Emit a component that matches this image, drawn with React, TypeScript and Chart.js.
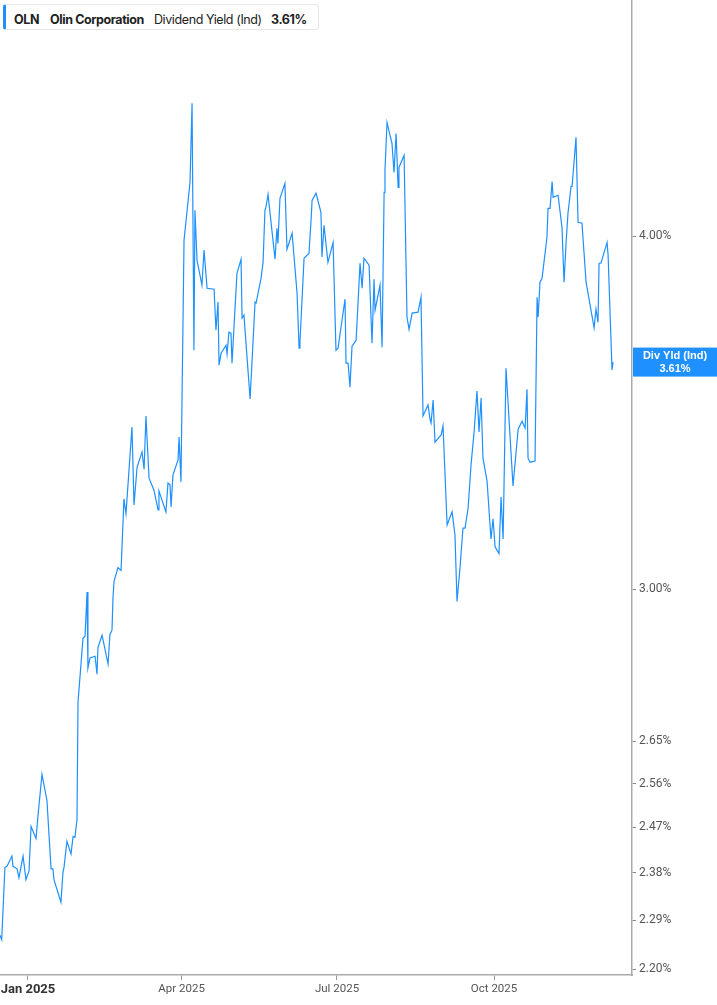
import { useEffect, useRef } from "react";
import { Chart, registerables } from "chart.js";

Chart.register(...registerables);

// x = days counted from 1 Jan 2025, y = dividend yield in %
const days = [
  -16.4, -15.4, -13.5, -12.3, -9.4, -8.8, -6.4, -5.3, -2.9, -1.2, 0.6, 1.8, 4.7, 5.9, 8.2, 11.1,
  13.5, 14.6, 15.2, 19.3, 20.5, 21.1, 22.8, 25.2, 26.4, 27.5, 28.7, 29.3, 30.5, 32.2, 33.4, 34.6,
  35.1, 36.3, 39.3, 40.4, 41.0, 43.4, 46.9, 48.0, 49.2, 49.8, 50.4, 52.7, 54.5, 56.2, 57.4, 60.9,
  62.1, 63.9, 66.8, 68.0, 69.1, 70.9, 73.8, 76.2, 76.7, 80.8, 82.0, 83.2, 83.8, 84.9, 87.9, 88.5,
  89.6, 91.4, 94.9, 96.1, 97.2, 97.8, 99.0, 101.9, 103.1, 104.9, 109.0, 110.1, 111.3, 111.9, 113.1,
  116.0, 116.6, 117.7, 118.9, 119.5, 122.4, 124.8, 125.4, 126.5, 130.1, 133.0, 133.6, 136.5, 137.7,
  138.8, 139.4, 140.6, 144.7, 145.8, 146.4, 147.6, 150.5, 151.7, 154.7, 157.6, 158.8, 159.3, 161.7,
  164.6, 165.8, 166.4, 168.7, 171.6, 172.2, 173.4, 175.7, 178.7, 180.4, 181.6, 185.7, 186.3, 187.5,
  188.6, 189.8, 192.2, 194.5, 195.7, 196.8, 199.8, 201.5, 202.7, 203.3, 206.2, 207.4, 208.6, 209.1,
  210.3, 213.2, 214.4, 215.6, 216.8, 217.3, 220.3, 222.0, 223.2, 225.0, 228.5, 230.2, 231.4, 234.3,
  235.5, 236.1, 237.3, 238.4, 242.0, 243.1, 245.5, 248.4, 250.1, 251.3, 253.1, 254.8, 256.0, 257.8,
  259.5, 261.3, 263.0, 264.2, 265.4, 266.5, 268.9, 271.2, 272.4, 273.6, 275.9, 277.1, 278.3, 280.0,
  284.1, 287.1, 289.4, 291.2, 292.3, 292.9, 294.1, 297.0, 298.2, 298.8, 299.9, 301.1, 304.0, 304.6,
  305.8, 307.0, 307.6, 310.5, 312.8, 314.0, 315.2, 316.3, 318.1, 318.7, 321.0, 322.2, 324.5, 326.9,
  331.6, 332.7, 333.9, 334.5, 335.6, 339.2, 339.8, 342.1, 342.7,
];

const yields = [
  2.262, 2.254, 2.391, 2.393, 2.413, 2.393, 2.388, 2.371, 2.413, 2.367, 2.384, 2.472, 2.448, 2.496, 2.579, 2.525,
  2.388, 2.388, 2.367, 2.324, 2.382, 2.391, 2.442, 2.417, 2.452, 2.45, 2.486, 2.736, 2.795, 2.882, 2.887, 2.993,
  2.813, 2.836, 2.84, 2.799, 2.861, 2.889, 2.822, 2.891, 2.901, 2.98, 3.019, 3.053, 3.046, 3.229, 3.19, 3.424,
  3.213, 3.314, 3.355, 3.308, 3.455, 3.284, 3.252, 3.2, 3.25, 3.195, 3.271, 3.266, 3.208, 3.292, 3.333, 3.396,
  3.274, 3.987, 4.18, 4.458, 3.645, 4.086, 3.923, 3.844, 3.955, 3.834, 3.831, 3.705, 3.791, 3.601, 3.636,
  3.66, 3.634, 3.699, 3.696, 3.607, 3.881, 3.926, 3.742, 3.751, 3.503, 3.791, 3.788, 3.865, 3.916,
  4.086, 4.096, 4.139, 3.926, 4.026, 3.977, 4.126, 4.176, 3.958, 4.01, 3.819, 3.651, 3.669, 3.929,
  3.945, 4.052, 4.119, 4.143, 4.079, 3.933, 4.036, 3.916, 3.98, 3.645, 3.651, 3.8, 3.607, 3.607,
  3.537, 3.657, 3.675, 3.913, 3.834, 3.929, 3.907, 3.666, 3.862, 3.766, 3.844, 3.654, 4.146, 4.221,
  4.389, 4.315, 4.214, 4.35, 4.163, 4.231, 4.273, 3.745, 3.708, 3.757, 3.76, 3.806, 3.455, 3.486,
  3.446, 3.435, 3.5, 3.382, 3.402, 3.427, 3.161, 3.195, 3.136, 2.97, 3.055, 3.153, 3.153, 3.205,
  3.319, 3.41, 3.526, 3.41, 3.506, 3.338, 3.276, 3.125, 3.177, 3.105, 3.088, 3.234, 3.125, 3.592,
  3.263, 3.418, 3.44, 3.421, 3.531, 3.338, 3.327, 3.33, 3.806, 3.745, 3.853, 3.865, 3.997, 4.092,
  4.092, 4.183, 4.129, 4.136, 4.029, 3.853, 3.98, 4.076, 4.166, 4.166, 4.336, 4.046, 4.043, 3.853,
  3.712, 3.769, 3.729, 3.913, 3.913, 3.98, 3.939, 3.587, 3.61,
];

const yTicks = [2.2, 2.29, 2.38, 2.47, 2.56, 2.65, 3.0, 4.0];
const xTickDays = [0, 90, 181, 273];
const xTickLabels = ["Jan 2025", "Apr 2025", "Jul 2025", "Oct 2025"];

const BLUE = "#1e90ff";

const lastValueTag = {
  id: "lastValueTag",
  afterDraw(chart: any) {
    const { ctx, chartArea, scales } = chart;
    const last = yields[yields.length - 1];
    const y = scales.y.getPixelForValue(last);
    const x0 = chartArea.right + 1;
    ctx.save();
    ctx.fillStyle = BLUE;
    ctx.fillRect(x0, y - 14.5, chart.width - x0, 29);
    ctx.fillStyle = "#fff";
    ctx.font = "bold 11px 'Liberation Sans', Arial, sans-serif";
    ctx.textAlign = "center";
    ctx.textBaseline = "middle";
    const cx = (x0 + chart.width) / 2;
    ctx.fillText("Div Yld (Ind)", cx, y - 6);
    ctx.fillText(last.toFixed(2) + "%", cx, y + 7);
    ctx.restore();
  },
};

export default function App() {
  const canvasRef = useRef<any>(null);

  useEffect(() => {
    if (!canvasRef.current) return;
    const chart = new Chart(canvasRef.current.getContext("2d"), {
      type: "line",
      data: {
        datasets: [
          {
            label: "Dividend Yield (Ind)",
            data: days.map((d, i) => ({ x: d, y: yields[i] })),
            borderColor: BLUE,
            borderWidth: 1.2,
            pointRadius: 0,
            tension: 0,
            fill: false,
          },
        ],
      },
      options: {
        animation: false,
        responsive: true,
        maintainAspectRatio: false,
        layout: { padding: 0 },
        plugins: {
          legend: { display: false },
          tooltip: { enabled: false },
        },
        scales: {
          x: {
            type: "linear",
            min: -16.4,
            max: 353.8,
            afterBuildTicks: (scale: any) => {
              scale.ticks = xTickDays.map((v) => ({ value: v }));
            },
            afterFit: (scale: any) => {
              scale.height = 30;
              scale.paddingLeft = 0;
              scale.paddingRight = 0;
            },
            grid: { drawOnChartArea: false, drawTicks: true, tickLength: 5, color: "#999" },
            border: { display: true, color: "#aaa", width: 1.5 },
            ticks: {
              autoSkip: false,
              maxRotation: 0,
              padding: 2,
              color: (ctx: any) => (ctx.index === 0 ? "#333" : "#555"),
              font: (ctx: any) =>
                ctx.index === 0
                  ? { family: "Roboto", size: 13, weight: "bold" }
                  : { family: "Roboto", size: 11.5, weight: "normal" },
              callback: (v: any) => xTickLabels[xTickDays.indexOf(Number(v))] ?? "",
            },
          },
          y: {
            type: "logarithmic",
            position: "right",
            min: 2.19,
            max: 4.85,
            afterBuildTicks: (scale: any) => {
              scale.ticks = yTicks.map((v) => ({ value: v }));
            },
            afterFit: (scale: any) => {
              scale.width = 85;
              scale.paddingTop = 0;
              scale.paddingBottom = 0;
            },
            grid: { drawOnChartArea: false, drawTicks: true, tickLength: 4, color: "#888" },
            border: { display: true, color: "#aaa", width: 1.5 },
            ticks: {
              padding: 3,
              color: "#555",
              font: { family: "Roboto", size: 12 },
              callback: (v: any) => Number(v).toFixed(2) + "%",
            },
          },
        },
      },
      plugins: [lastValueTag],
    });
    return () => chart.destroy();
  }, []);

  const legendText = {
    position: "absolute" as const,
    top: 8,
    fontFamily: "Inter, sans-serif",
    fontSize: 12.5,
    letterSpacing: "-0.4px",
    color: "#222",
    lineHeight: "14px",
    whiteSpace: "nowrap" as const,
  };

  return (
    <div style={{ position: "absolute", left: 0, top: 0, width: 717, height: 1005, background: "#fff" }}>
      <canvas ref={canvasRef} />
      <div
        style={{
          position: "absolute",
          left: 3,
          top: 4,
          width: 316,
          height: 26,
          background: "#fff",
          border: "1px solid #e8e8e8",
          borderLeft: `3px solid ${BLUE}`,
          borderRadius: 3,
          boxSizing: "border-box",
        }}
      >
        <span style={{ ...legendText, left: 8, fontWeight: 700 }}>OLN</span>
        <span style={{ ...legendText, left: 44, fontWeight: 700 }}>Olin Corporation</span>
        <span style={{ ...legendText, left: 148, fontWeight: 400 }}>Dividend Yield (Ind)</span>
        <span style={{ ...legendText, left: 265, fontWeight: 700 }}>3.61%</span>
      </div>
    </div>
  );
}
